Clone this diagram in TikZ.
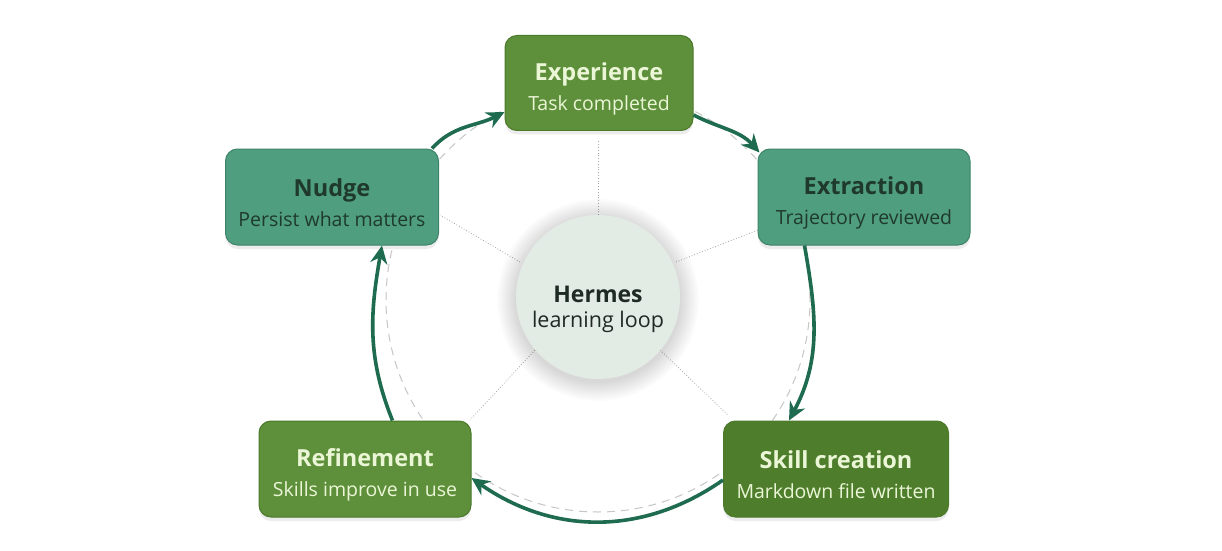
\documentclass[tikz,border=0pt]{standalone}
\usepackage{fontspec}
\setmainfont{Open Sans}
\usetikzlibrary{shadows,calc,arrows.meta}
\definecolor{olive}{HTML}{5E8F3A}
\definecolor{olivedark}{HTML}{4E7D2C}
\definecolor{oliveborder}{HTML}{4A7A2A}
\definecolor{teal}{HTML}{4F9E80}
\definecolor{tealborder}{HTML}{3E8468}
\definecolor{lighttext}{HTML}{EAF6D6}
\definecolor{darktext}{HTML}{1F3A2D}
\definecolor{arrowgreen}{HTML}{1E6B50}
\definecolor{hubfill}{HTML}{E3EBE5}
\definecolor{hubtext}{HTML}{1E2A24}
\tikzset{
  box/.style={rounded corners=12pt, minimum height=96pt, align=center, line width=1pt,
    font=\fontsize{19.5}{30}\selectfont,
    drop shadow={opacity=0.15, shadow xshift=0pt, shadow yshift=-4pt}},
  olivebox/.style={box, fill=olive, draw=oliveborder, text=lighttext},
  tealbox/.style={box, fill=teal, draw=tealborder, text=darktext},
  loop/.style={draw=arrowgreen, line width=3.6pt, -{Stealth[length=18pt,width=17pt]}},
  spoke/.style={draw=gray!70, line width=0.8pt, dotted},
}
\newcommand{\lowered}[2]{\raisebox{-#1}[\height][\depth]{#2}}
\newcommand{\boxlines}[2]{\lowered{6pt}{\fontsize{23.5}{30}\selectfont\bfseries #1}\\\lowered{6pt}{#2}}
\begin{document}
\begin{tikzpicture}[x=1pt,y=1pt]
\useasboundingbox (0,0) rectangle (1222,550);
\fill[white] (0,0) rectangle (1222,550);
\coordinate (c) at (598,250);
% dashed loop circle
\draw[gray!45, line width=1pt, dash pattern=on 8pt off 6pt] (c) circle (212);
% spokes
\draw[spoke] (598,335) -- (598,410);
\draw[spoke] (676,288) -- (758,320);
\draw[spoke] (520,288) -- (440,335);
\draw[spoke] (535,200) -- (470,130);
\draw[spoke] (660,200) -- (728,135);
% hub glow
\foreach \r in {83,84.5,...,102}{\fill[black,opacity=0.011] (598,250) circle (\r);}
\node[circle, minimum size=164pt, inner sep=0pt, fill=hubfill, text=hubtext, align=center,
  font=\fontsize{21.5}{25}\selectfont] (hub) at (598,253)
  {\lowered{12pt}{\fontsize{23}{25}\selectfont\bfseries Hermes}\\[0pt]\lowered{12pt}{learning loop}};
% boxes
\node[olivebox, minimum width=188pt, minimum height=95pt] (exp) at (599,467) {\boxlines{Experience}{Task completed}};
\node[tealbox, minimum width=212pt] (ext) at (864,353) {\boxlines{Extraction}{Trajectory reviewed}};
\node[olivebox, fill=olivedark, minimum width=225pt] (skill) at (836,81) {\boxlines{Skill creation}{Markdown file written}};
\node[olivebox, minimum width=212pt] (ref) at (365,81) {\boxlines{Refinement}{Skills improve in use}};
\node[tealbox, minimum width=213pt] (nud) at (332,353) {\boxlines{Nudge}{Persist what matters}};
% loop arrows
\draw[loop] ($(nud.north east)+(-7,0)$) to[out=48,in=207] ($(exp.west)+(0,-29)$);
\draw[loop] ($(exp.east)+(0,-32)$) to[out=-27,in=132] ($(ext.north west)+(2,-4)$);
\draw[loop] ($(ext.south west)+(47,0)$) to[out=-80,in=62] ($(skill.north west)+(66,0)$);
\draw[loop] ($(skill.west)+(0,-11)$) to[out=215,in=-35] ($(ref.east)+(0,-9)$);
\draw[loop] ($(ref.north west)+(134,0)$) to[out=112,in=-100] ($(nud.south east)+(-57,0)$);
\end{tikzpicture}
\end{document}
